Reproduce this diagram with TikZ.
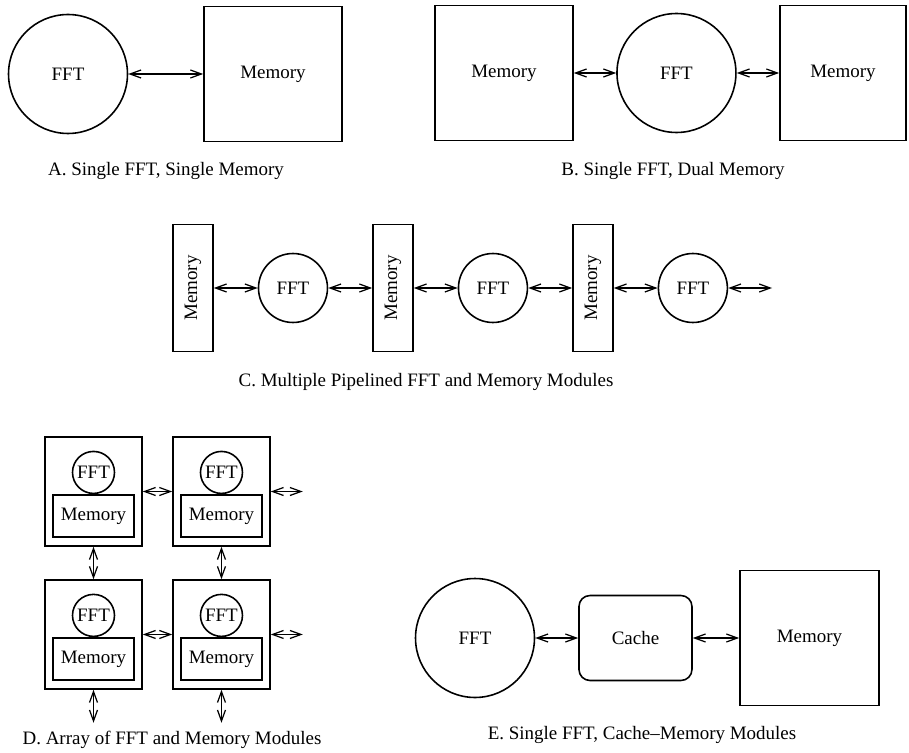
\documentclass[tikz,border=0pt]{standalone}
\usepackage{fontspec}
\setmainfont{Liberation Serif}
\usepackage{graphicx}
\usetikzlibrary{arrows.meta, positioning}
\tikzstyle{fft} = [circle, draw, line width=0.9pt, inner sep=0pt, minimum size=2.38cm]
\tikzstyle{mem} = [rectangle, draw, line width=0.9pt, inner sep=0pt, minimum width=2.76cm, minimum height=2.7cm]
\tikzstyle{memtall} = [mem, minimum width=0.8cm, minimum height=2.54cm]
\tikzstyle{cache} = [rectangle, draw, rounded corners=0.22cm, line width=0.9pt, minimum width=2.26cm, minimum height=1.7cm]
\tikzstyle{module} = [rectangle, draw, line width=0.9pt, minimum width=1.94cm, minimum height=2.18cm]
\tikzstyle{memsmall} = [mem, minimum width=1.62cm, minimum height=0.84cm]
\tikzstyle{fftsmall} = [fft, minimum size=0.84cm]
\tikzstyle{link} = [line width=0.7pt, <->, >={Straight Barb[length=2.2mm,width=1.6mm]}]
\tikzstyle{caption} = [inner sep=0pt]
\begin{document}
\begin{tikzpicture}[x=0.02cm, y=-0.02cm, node distance=2cm, font=\fontsize{10.8}{13}\selectfont]
    \useasboundingbox (0,0) rectangle (909,753);

    % A: single FFT, single memory
    \node (fftA) [fft] at (68,74) {FFT};
    \node (memA) [mem, right of=fftA, xshift=2.1cm] {Memory};
    \node (capA) [caption] at (166,171) {A. Single FFT, Single Memory};

    % B: single FFT, dual memory
    \node (memB1) [mem] at (504,73) {Memory};
    \node (fftB) [fft, right of=memB1, xshift=1.45cm] {FFT};
    \node (memB2) [mem, minimum width=2.52cm, right of=fftB, xshift=1.33cm] {Memory};
    \node (capB) [caption] at (673,171) {B. Single FFT, Dual Memory};

    % C: pipelined modules
    \node (memC1) [memtall] at (193,288) {\rotatebox{90}{Memory}};
    \node (fftC1) [fft, minimum size=1.38cm, right of=memC1] {FFT};
    \node (memC2) [memtall, right of=fftC1] {\rotatebox{90}{Memory}};
    \node (fftC2) [fft, minimum size=1.38cm, right of=memC2] {FFT};
    \node (memC3) [memtall, right of=fftC2] {\rotatebox{90}{Memory}};
    \node (fftC3) [fft, minimum size=1.38cm, right of=memC3] {FFT};
    \coordinate (outC) at (772,288);
    \node (capC) [caption] at (426,382) {C. Multiple Pipelined FFT and Memory Modules};

    % D: array of modules
    \node (dmod1) [module] at (93.5,491.5) {};
    \node (dmod2) [module, right of=dmod1, xshift=0.56cm] {};
    \node (dmod3) [module, below of=dmod1, yshift=-0.86cm] {};
    \node (dmod4) [module, right of=dmod3, xshift=0.56cm] {};
    \node (memD1) [memsmall, above=0.18cm of dmod1.south] {Memory};
    \node (fftD1) [fftsmall, above=0pt of memD1] {FFT};
    \node (memD2) [memsmall, above=0.18cm of dmod2.south] {Memory};
    \node (fftD2) [fftsmall, above=0pt of memD2] {FFT};
    \node (memD3) [memsmall, above=0.18cm of dmod3.south] {Memory};
    \node (fftD3) [fftsmall, above=0pt of memD3] {FFT};
    \node (memD4) [memsmall, above=0.18cm of dmod4.south] {Memory};
    \node (fftD4) [fftsmall, above=0pt of memD4] {FFT};
    \coordinate [right=0.64cm of dmod2.east] (eastD2);
    \coordinate [right=0.64cm of dmod4.east] (eastD4);
    \coordinate [below=0.66cm of dmod3.south] (southD3);
    \coordinate [below=0.66cm of dmod4.south] (southD4);
    \node (capD) [caption] at (172,740) {D. Array of FFT and Memory Modules};

    % E: cache and memory
    \node (fftE) [fft] at (475,638) {FFT};
    \node (cache) [cache, right of=fftE, xshift=1.21cm] {Cache};
    \node (memE) [mem, minimum width=2.78cm, right of=cache, xshift=1.48cm] {Memory};
    \node (capE) [caption] at (642,735) {E. Single FFT, Cache--Memory Modules};

    % ==== Arrows
    \draw [link] (fftA) -- (memA);
    \draw [link] (memB1) -- (fftB);
    \draw [link] (fftB) -- (memB2);

    \draw [link] (memC1) -- (fftC1);
    \draw [link] (fftC1) -- (memC2);
    \draw [link] (memC2) -- (fftC2);
    \draw [link] (fftC2) -- (memC3);
    \draw [link] (memC3) -- (fftC3);
    \draw [link] (fftC3) -- (outC);

    \draw [link] (dmod1) -- (dmod2);
    \draw [link] (dmod2) -- (eastD2);
    \draw [link] (dmod3) -- (dmod4);
    \draw [link] (dmod4) -- (eastD4);
    \draw [link] (dmod1) -- (dmod3);
    \draw [link] (dmod2) -- (dmod4);
    \draw [link] (dmod3) -- (southD3);
    \draw [link] (dmod4) -- (southD4);

    \draw [link] (fftE) -- (cache);
    \draw [link] (cache) -- (memE);

\end{tikzpicture}
\end{document}
